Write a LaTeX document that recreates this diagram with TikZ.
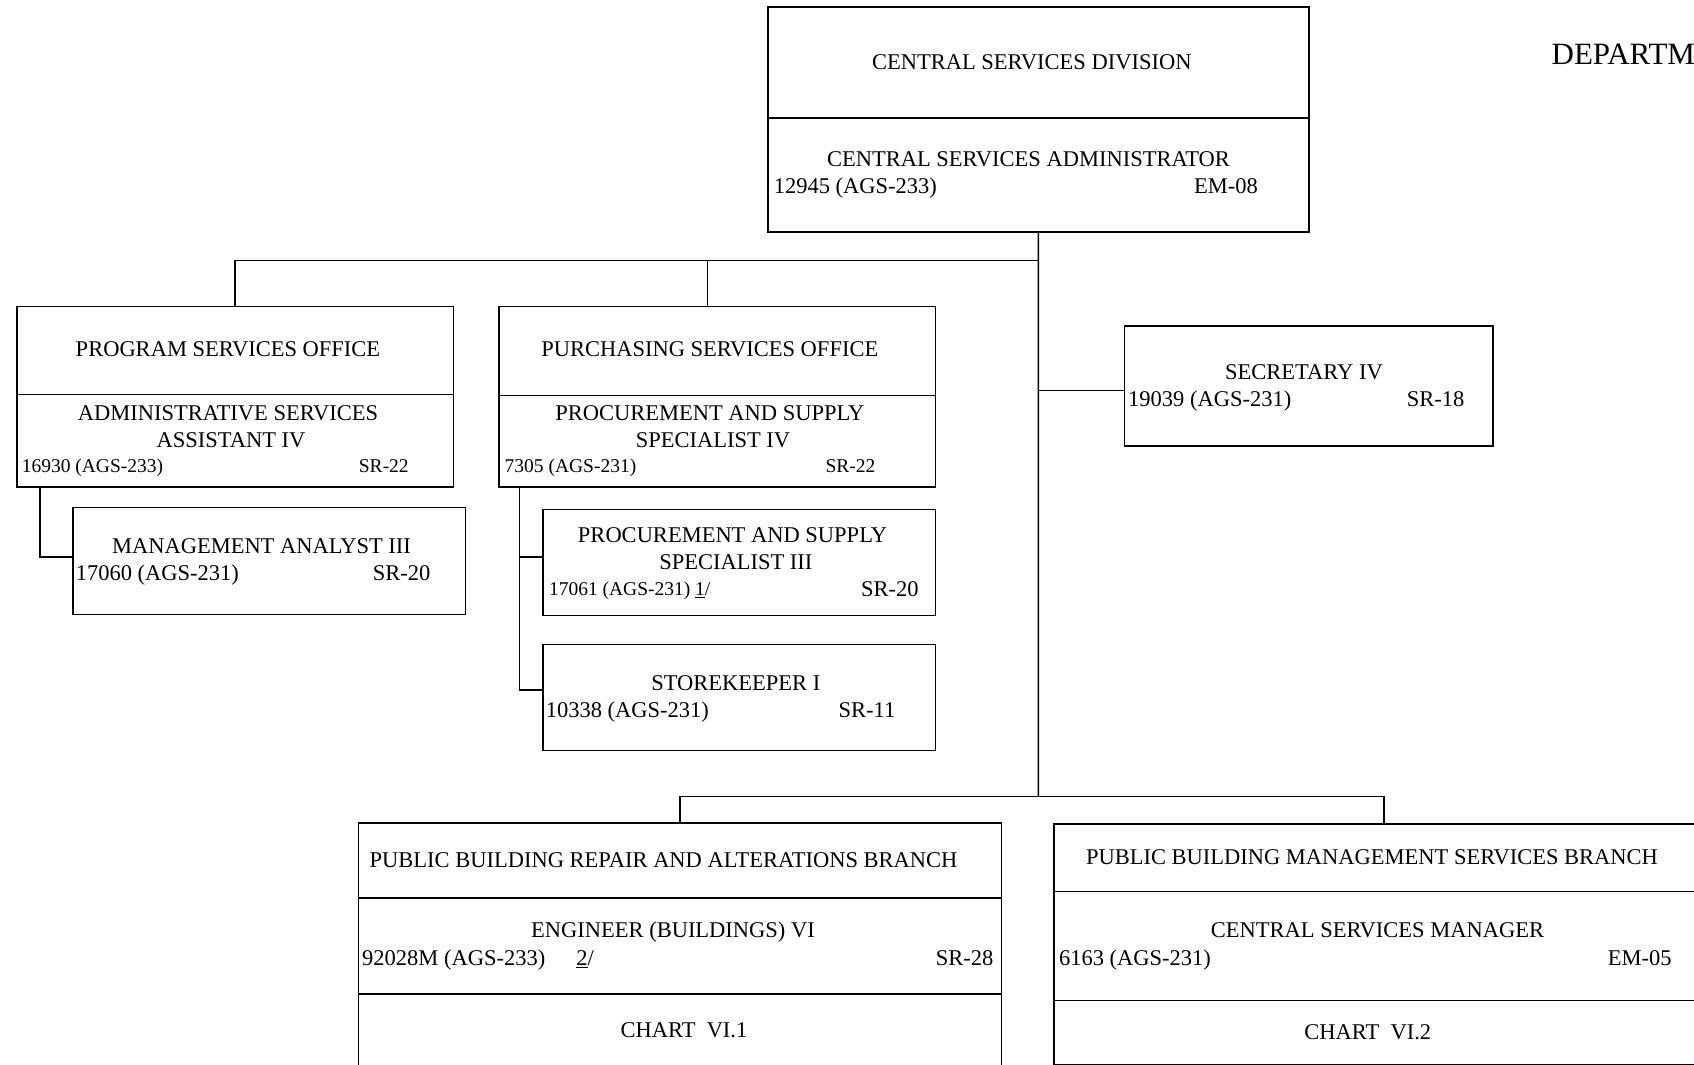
\documentclass[tikz,border=0pt]{standalone}
\usepackage{fontspec}
\setmainfont{Liberation Serif}
\newcommand\normsz{\fontsize{22.5}{27}\selectfont}
\newcommand\smallsz{\fontsize{19.5}{23}\selectfont}
\newcommand\bigsz{\fontsize{31}{37}\selectfont}
\begin{document}
\begin{tikzpicture}[x=1pt,y=-1pt,
  box/.style={draw,line width=1.5pt,rectangle,inner sep=0pt,anchor=north west},
  conn/.style={line width=1.5pt},
  tc/.style={inner sep=0pt,anchor=base,font=\normsz},
  tl/.style={inner sep=0pt,anchor=base west,font=\normsz},
  sl/.style={inner sep=0pt,anchor=base west,font=\smallsz}]
\useasboundingbox (0,0) rectangle (1694,1065);
\clip (0,0) rectangle (1694,1065);
% boxes
\node[box,minimum width=541pt,minimum height=224.5pt] (csd) at (767,6.5) {};
\node[box,minimum width=436.5pt,minimum height=180.4pt] (pso) at (16.2,305.8) {};
\node[box,minimum width=392.2pt,minimum height=107pt] (ma) at (72.4,506.7) {};
\node[box,minimum width=436.5pt,minimum height=180.4pt] (pur) at (498,305.8) {};
\node[box,minimum width=392.1pt,minimum height=105.9pt] (pss) at (542.4,508.9) {};
\node[box,minimum width=392.1pt,minimum height=105.9pt] (sk) at (542.4,643.9) {};
\node[box,minimum width=368.4pt,minimum height=119.9pt] (sec) at (1123.6,325.2) {};
\node[box,minimum width=642.9pt,minimum height=270pt] (pbr) at (357.6,822.2) {};
\node[box,minimum width=680pt,minimum height=240.2pt] (pbm) at (1053.4,823.3) {};
% dividers
\draw[conn] (csd.west |- 0,117.8) -- (csd.east |- 0,117.8);
\draw[conn] (pso.west |- 0,394.3) -- (pso.east |- 0,394.3);
\draw[conn] (pur.west |- 0,395.4) -- (pur.east |- 0,395.4);
\draw[conn] (pbr.west |- 0,897.8) -- (pbr.east |- 0,897.8);
\draw[conn] (pbr.west |- 0,994) -- (pbr.east |- 0,994);
\draw[conn] (pbm.west |- 0,891.3) -- (pbm.east |- 0,891.3);
\draw[conn] (pbm.west |- 0,1000.5) -- (pbm.east |- 0,1000.5);
% connectors
\coordinate (tj) at (1038.3,260.4);
\coordinate (bj) at (1038.3,796.3);
\coordinate (purtop) at (707.7,305.8);
\coordinate (pbmtop) at (1384,823.3);
\coordinate (psodrop) at (40,486.2);
\coordinate (purdrop) at (519.7,486.2);
\coordinate (secin) at ([yshift=-4.8pt]sec.west);
\coordinate (main) at ([yshift=3.8pt]ma.west);
\coordinate (skin) at ([yshift=7.6pt]sk.west);
\coordinate (pssin) at ([yshift=5.5pt]pss.west);
\draw[conn] (csd.south) -- (bj);
\draw[conn] (tj) -| (pso.north);
\draw[conn] (purtop) -- (purtop |- tj);
\draw[conn] (tj |- secin) -- (secin);
\draw[conn] (bj) -| (pbr.north);
\draw[conn] (bj) -| (pbmtop);
\draw[conn] (psodrop) |- (main);
\draw[conn] (purdrop) |- (skin);
\draw[conn] (purdrop |- pssin) -- (pssin);
% texts
\node[tc] (t1) at (1031.8,69.1) {CENTRAL SERVICES DIVISION};
\node[tc] (t2) at (1028.5,166.3) {CENTRAL SERVICES ADMINISTRATOR};
\node[tl] (t3) at (773.6,193.3) {12945 (AGS-233)};
\node[tl] (t4) at (1194,193.3) {EM-08};
\node[inner sep=0pt,anchor=base west,font=\bigsz] (t5) at (1551.4,64.5) {DEPARTM};
\node[tc] (t6) at (228,356.5) {PROGRAM SERVICES OFFICE};
\node[tc] (t7) at (228,420.2) {ADMINISTRATIVE SERVICES};
\node[tc] (t8) at (231,447.2) {ASSISTANT IV};
\node[sl] (t9) at (21.6,472.1) {16930 (AGS-233)};
\node[sl] (t10) at (358.7,472.1) {SR-22};
\node[tc] (t11) at (261.5,553.1) {MANAGEMENT ANALYST III};
\node[tl] (t12) at (75.6,580.1) {17060 (AGS-231)};
\node[tl] (t13) at (372.7,580.1) {SR-20};
\node[tc] (t14) at (709.8,356.5) {PURCHASING SERVICES OFFICE};
\node[tc] (t15) at (709.8,420.2) {PROCUREMENT AND SUPPLY};
\node[tc] (t16) at (713,447.2) {SPECIALIST IV};
\node[sl] (t17) at (504.5,472.1) {7305 (AGS-231)};
\node[sl] (t18) at (825.4,472.1) {SR-22};
\node[tc] (t19) at (732.5,542.3) {PROCUREMENT AND SUPPLY};
\node[tc] (t20) at (735.8,569.3) {SPECIALIST III};
\node[sl] (t21) at (548.8,595.3) {17061 (AGS-231) \underline{1}/};
\node[tl] (t22) at (861,596.3) {SR-20};
\node[tc] (t23) at (735.8,690.3) {STOREKEEPER I};
\node[tl] (t24) at (545.6,717.3) {10338 (AGS-231)};
\node[tl] (t25) at (838.4,717.3) {SR-11};
\node[tc] (t26) at (1304,379.2) {SECRETARY IV};
\node[tl] (t27) at (1128,406.2) {19039 (AGS-231)};
\node[tl] (t28) at (1406.7,406.2) {SR-18};
\node[tl] (t29) at (369.5,867.5) {PUBLIC BUILDING REPAIR AND ALTERATIONS BRANCH};
\node[tc] (t30) at (673,937.7) {ENGINEER (BUILDINGS) VI};
\node[tl] (t31) at (362,965.8) {92028M (AGS-233)\hspace{31pt}\underline{2}/};
\node[tl] (t32) at (935.6,965.8) {SR-28};
\node[tc] (t33) at (684,1037.1) {CHART\ \ VI.1};
\node[tl] (t34) at (1085.8,864.3) {PUBLIC BUILDING MANAGEMENT SERVICES BRANCH};
\node[tc] (t35) at (1377.5,937.7) {CENTRAL SERVICES MANAGER};
\node[tl] (t36) at (1058.8,965.8) {6163 (AGS-231)};
\node[tl] (t37) at (1607.6,965.8) {EM-05};
\node[tc] (t38) at (1367.8,1039.3) {CHART\ \ VI.2};
\end{tikzpicture}
\end{document}
